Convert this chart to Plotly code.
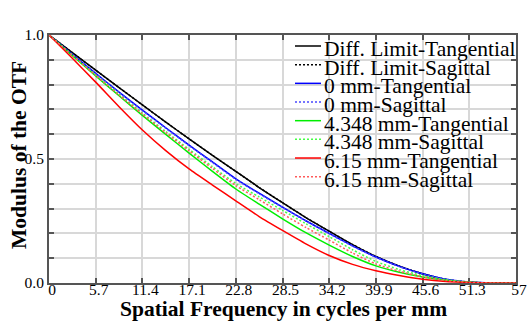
import plotly.graph_objects as go

# ---- data ----
freq = [0, 2.85, 5.7, 8.55, 11.4, 14.25, 17.1, 19.95, 22.8, 25.65, 28.5,
        31.35, 34.2, 37.05, 39.9, 42.75, 45.6, 48.45, 51.3, 54.15, 57]

diff_tan = [1.000, 0.929, 0.858, 0.788, 0.718, 0.649, 0.581, 0.515, 0.450, 0.385, 0.324,
            0.264, 0.209, 0.155, 0.107, 0.068, 0.037, 0.014, 0.003, 0.000, 0.000]
diff_sag = [1.000, 0.929, 0.858, 0.788, 0.718, 0.649, 0.581, 0.515, 0.450, 0.385, 0.324,
            0.264, 0.209, 0.155, 0.107, 0.068, 0.037, 0.014, 0.003, 0.000, 0.000]
f0_tan = [1.000, 0.922, 0.845, 0.770, 0.697, 0.626, 0.556, 0.488, 0.420, 0.362, 0.306,
          0.251, 0.200, 0.150, 0.105, 0.067, 0.037, 0.015, 0.004, 0.000, 0.000]
f0_sag = [1.000, 0.921, 0.843, 0.768, 0.695, 0.624, 0.554, 0.486, 0.418, 0.360, 0.304,
          0.250, 0.199, 0.149, 0.104, 0.066, 0.036, 0.015, 0.004, 0.000, 0.000]
f4_tan = [1.000, 0.917, 0.835, 0.755, 0.676, 0.599, 0.524, 0.450, 0.379, 0.318, 0.259,
          0.203, 0.153, 0.107, 0.069, 0.043, 0.024, 0.011, 0.003, 0.000, 0.000]
f4_sag = [1.000, 0.919, 0.839, 0.761, 0.685, 0.611, 0.539, 0.469, 0.401, 0.347, 0.293,
          0.239, 0.187, 0.134, 0.087, 0.054, 0.030, 0.013, 0.004, 0.000, 0.000]
f6_tan = [1.000, 0.906, 0.810, 0.711, 0.617, 0.534, 0.460, 0.395, 0.331, 0.268, 0.212,
          0.158, 0.111, 0.075, 0.049, 0.030, 0.015, 0.006, 0.002, 0.000, 0.000]
f6_sag = [1.000, 0.918, 0.837, 0.758, 0.681, 0.606, 0.533, 0.462, 0.393, 0.336, 0.279,
          0.224, 0.173, 0.121, 0.077, 0.047, 0.025, 0.010, 0.003, 0.000, 0.000]

names = ["Diff. Limit-Tangential", "Diff. Limit-Sagittal",
         "0 mm-Tangential", "0 mm-Sagittal",
         "4.348 mm-Tangential", "4.348 mm-Sagittal",
         "6.15 mm-Tangential", "6.15 mm-Sagittal"]
series = [diff_tan, diff_sag, f0_tan, f0_sag, f4_tan, f4_sag, f6_tan, f6_sag]

x_tick_vals = [0, 5.7, 11.4, 17.1, 22.8, 28.5, 34.2, 39.9, 45.6, 51.3, 57]
x_tick_text = ["0", "5.7", "11.4", "17.1", "22.8", "28.5", "34.2", "39.9", "45.6", "51.3", "57"]
y_tick_vals = [0, 0.1, 0.2, 0.3, 0.4, 0.5, 0.6, 0.7, 0.8, 0.9, 1.0]
y_tick_text = ["0.0", "", "", "", "", "0.5", "", "", "", "", "1.0"]

x_title = "Spatial Frequency in cycles per mm"
y_title = "Modulus of the OTF"

# ---- styles ----
colors = ["#000000", "#000000", "#0000ff", "#4a4aff", "#00ee00", "#44ff44", "#ff0000", "#ff5a5a"]
dashes = ["solid", "2px,2px", "solid", "2px,2px", "solid", "2px,2px", "solid", "2px,2px"]
SERIF = "Liberation Serif"

W, H = 531, 322
L, R, T, B = 49, 15, 35, 39
PW, PH = W - L - R, H - T - B


def px(x):
    return (x - L) / PW


def py(y):
    return (H - B - y) / PH


fig = go.Figure()
for name, ys, c, d in zip(names, series, colors, dashes):
    fig.add_trace(go.Scatter(x=freq, y=ys, mode="lines", name=name, showlegend=False,
                             line=dict(color=c, width=1.5, dash=d, shape="spline", smoothing=0.6)))

# manual legend (compact rows like the original)
shapes = []
annotations = []
for i, (name, c, d) in enumerate(zip(names, colors, dashes)):
    ly = 46.0 + 18.67 * i
    shapes.append(dict(type="line", xref="paper", yref="paper",
                       x0=px(295), x1=px(321), y0=py(ly), y1=py(ly),
                       line=dict(color=c, width=1.5, dash=d)))
    annotations.append(dict(text=name, xref="paper", yref="paper",
                            x=px(323), y=py(49.0 + 18.67 * i), xanchor="left", yanchor="middle",
                            showarrow=False, borderpad=0,
                            font=dict(size=21.5, color="#000000", family=SERIF)))

# axis titles placed like the original
annotations.append(dict(text=y_title, xref="paper", yref="paper",
                        x=px(19), y=py(155), xanchor="center", yanchor="middle",
                        textangle=-90, showarrow=False, borderpad=0,
                        font=dict(size=21.5, weight="bold", color="#000000", family=SERIF)))
annotations.append(dict(text=x_title, xref="paper", yref="paper",
                        x=px(283), y=py(309), xanchor="center", yanchor="middle",
                        showarrow=False, borderpad=0,
                        font=dict(size=21.5, weight="bold", color="#000000", family=SERIF)))

axis_common = dict(ticks="inside", ticklen=5, tickwidth=1.5, tickcolor="#555555",
                   showline=True, linecolor="#555555", linewidth=2, mirror="ticks",
                   showgrid=True, gridcolor="#d8d8d8", gridwidth=1.5, zeroline=False,
                   layer="below traces", automargin=False,
                   tickfont=dict(size=15.5, color="#000000", family=SERIF))

fig.update_layout(
    width=W, height=H,
    margin=dict(l=L, r=R, t=T, b=B, pad=0, autoexpand=False),
    paper_bgcolor="white", plot_bgcolor="white",
    font=dict(family=SERIF, color="#000000"),
    xaxis=dict(range=[0, 57], tickmode="array", tickvals=x_tick_vals, ticktext=x_tick_text,
               ticklabelstandoff=-9, ticklabelshift=3, **axis_common),
    yaxis=dict(range=[0, 1], tickmode="array", tickvals=y_tick_vals, ticktext=y_tick_text,
               **axis_common),
    shapes=shapes,
    annotations=annotations,
)

fig.write_html("out.html")
